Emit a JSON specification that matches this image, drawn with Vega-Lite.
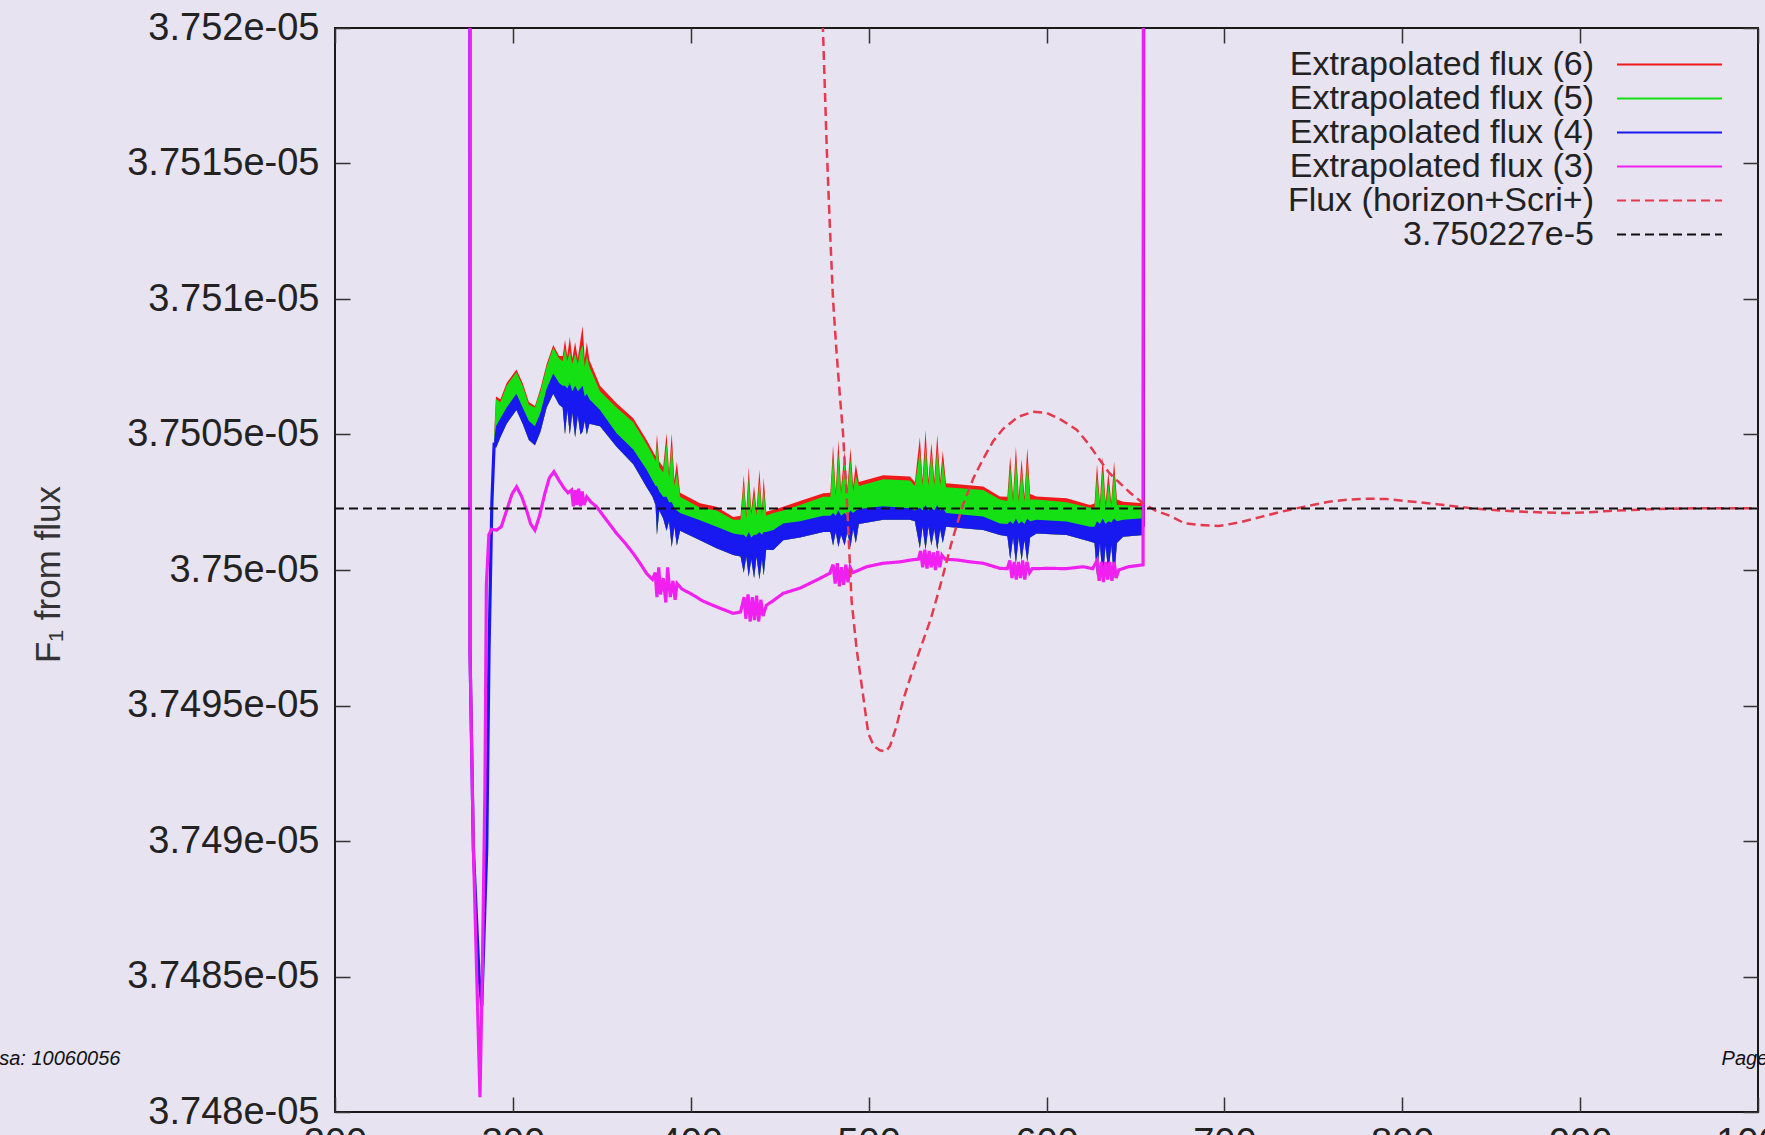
{
  "$schema": "https://vega.github.io/schema/vega-lite/v6.json",
  "width": 1423,
  "height": 1084,
  "autosize": "none",
  "padding": {"left": 335, "top": 28, "right": 7, "bottom": 23},
  "background": "#e7e3f0",
  "config": {
    "view": {"stroke": "#1a1a1a", "strokeWidth": 2},
    "font": "Liberation Sans",
    "axis": {"grid": false, "domain": false, "tickSize": -15, "tickColor": "#333333", "tickWidth": 1.5, "labelFont": "Liberation Sans", "labelFontSize": 38, "labelColor": "#222222", "labelLimit": 0, "titleFont": "Liberation Sans", "titleFontSize": 35, "titleColor": "#333333", "titleFontWeight": "normal", "labelFlush": false, "labelOverlap": false},
    "legend": {"orient": "none", "legendX": 1317.5, "legendY": 19.5, "padding": 0, "symbolType": "M-3.5,0H3.5", "symbolSize": 900, "symbolStrokeWidth": 2, "labelAlign": "right", "labelOffset": -92.5, "labelFont": "Liberation Sans", "labelFontSize": 34, "labelColor": "#222222", "labelLimit": 0, "rowPadding": 0}
  },
  "datasets": {
    "bands": [
      {"x":289.5,"bottom4":37504.6e-9,"top4":37504.8e-9,"top5":37504.9e-9,"top6":37505.0e-9},
      {"x":290.5,"bottom4":37504.5e-9,"top4":37505.3e-9,"top5":37506.3e-9,"top6":37506.4e-9},
      {"x":293,"bottom4":37504.9e-9,"top4":37505.6e-9,"top5":37506.2e-9,"top6":37506.3e-9},
      {"x":296.5,"bottom4":37505.4e-9,"top4":37506.0e-9,"top5":37506.8e-9,"top6":37506.9e-9},
      {"x":302,"bottom4":37505.9e-9,"top4":37506.5e-9,"top5":37507.3e-9,"top6":37507.4e-9},
      {"x":305.5,"bottom4":37505.4e-9,"top4":37506.0e-9,"top5":37506.8e-9,"top6":37506.9e-9},
      {"x":309,"bottom4":37504.8e-9,"top4":37505.5e-9,"top5":37506.1e-9,"top6":37506.2e-9},
      {"x":312.4,"bottom4":37504.6e-9,"top4":37505.3e-9,"top5":37506.0e-9,"top6":37506.05e-9},
      {"x":315.5,"bottom4":37505.1e-9,"top4":37505.8e-9,"top5":37506.6e-9,"top6":37506.7e-9},
      {"x":319,"bottom4":37506.0e-9,"top4":37506.7e-9,"top5":37507.5e-9,"top6":37507.6e-9},
      {"x":322.7,"bottom4":37506.5e-9,"top4":37507.25e-9,"top5":37508.2e-9,"top6":37508.3e-9},
      {"x":326,"bottom4":37506.1e-9,"top4":37506.9e-9,"top5":37507.8e-9,"top6":37507.9e-9},
      {"x":328,"bottom4":37506.0e-9,"top4":37506.8e-9,"top5":37507.7e-9,"top6":37507.9e-9},
      {"x":329.3,"bottom4":37505.0e-9,"top4":37506.8e-9,"top5":37508.2e-9,"top6":37508.5e-9},
      {"x":330.6,"bottom4":37505.9e-9,"top4":37506.7e-9,"top5":37507.7e-9,"top6":37507.9e-9},
      {"x":332,"bottom4":37505.0e-9,"top4":37506.9e-9,"top5":37508.1e-9,"top6":37508.6e-9},
      {"x":333.4,"bottom4":37505.8e-9,"top4":37506.6e-9,"top5":37507.6e-9,"top6":37507.8e-9},
      {"x":335,"bottom4":37504.9e-9,"top4":37506.8e-9,"top5":37508.0e-9,"top6":37508.4e-9},
      {"x":336.5,"bottom4":37505.7e-9,"top4":37506.6e-9,"top5":37507.6e-9,"top6":37507.8e-9},
      {"x":338,"bottom4":37505.0e-9,"top4":37506.7e-9,"top5":37508.1e-9,"top6":37508.5e-9},
      {"x":339.2,"bottom4":37505.1e-9,"top4":37506.8e-9,"top5":37508.3e-9,"top6":37509.0e-9},
      {"x":340.4,"bottom4":37505.5e-9,"top4":37506.4e-9,"top5":37507.5e-9,"top6":37507.8e-9},
      {"x":341.6,"bottom4":37505.0e-9,"top4":37506.5e-9,"top5":37507.9e-9,"top6":37508.4e-9},
      {"x":343,"bottom4":37505.4e-9,"top4":37506.3e-9,"top5":37507.5e-9,"top6":37507.75e-9},
      {"x":349,"bottom4":37505.3e-9,"top4":37505.9e-9,"top5":37506.6e-9,"top6":37506.8e-9},
      {"x":358.3,"bottom4":37504.55e-9,"top4":37505.05e-9,"top5":37506.0e-9,"top6":37506.15e-9},
      {"x":367.7,"bottom4":37503.9e-9,"top4":37504.45e-9,"top5":37505.45e-9,"top6":37505.6e-9},
      {"x":375.2,"bottom4":37503.05e-9,"top4":37503.7e-9,"top5":37504.65e-9,"top6":37504.8e-9},
      {"x":378.5,"bottom4":37502.7e-9,"top4":37503.3e-9,"top5":37504.25e-9,"top6":37504.4e-9},
      {"x":380.2,"bottom4":37502.4e-9,"top4":37503.1e-9,"top5":37504.0e-9,"top6":37504.2e-9},
      {"x":381,"bottom4":37501.3e-9,"top4":37503.1e-9,"top5":37504.7e-9,"top6":37505.0e-9},
      {"x":382.3,"bottom4":37502.2e-9,"top4":37502.9e-9,"top5":37503.8e-9,"top6":37504.0e-9},
      {"x":384.5,"bottom4":37501.9e-9,"top4":37502.7e-9,"top5":37503.6e-9,"top6":37503.8e-9},
      {"x":386.4,"bottom4":37501.45e-9,"top4":37502.7e-9,"top5":37504.7e-9,"top6":37505.05e-9},
      {"x":387.8,"bottom4":37501.8e-9,"top4":37502.5e-9,"top5":37503.4e-9,"top6":37503.6e-9},
      {"x":389.3,"bottom4":37500.85e-9,"top4":37502.5e-9,"top5":37504.6e-9,"top6":37505.05e-9},
      {"x":390.8,"bottom4":37501.6e-9,"top4":37502.3e-9,"top5":37503.1e-9,"top6":37503.3e-9},
      {"x":392.2,"bottom4":37500.9e-9,"top4":37502.2e-9,"top5":37503.6e-9,"top6":37504.0e-9},
      {"x":394,"bottom4":37501.45e-9,"top4":37502.1e-9,"top5":37502.7e-9,"top6":37502.85e-9},
      {"x":405.2,"bottom4":37501.1e-9,"top4":37501.84e-9,"top5":37502.3e-9,"top6":37502.46e-9},
      {"x":414.5,"bottom4":37500.8e-9,"top4":37501.6e-9,"top5":37502.2e-9,"top6":37502.33e-9},
      {"x":423.9,"bottom4":37500.55e-9,"top4":37501.35e-9,"top5":37501.85e-9,"top6":37501.96e-9},
      {"x":428,"bottom4":37500.5e-9,"top4":37501.3e-9,"top5":37501.85e-9,"top6":37502.0e-9},
      {"x":429.8,"bottom4":37499.9e-9,"top4":37501.3e-9,"top5":37503.2e-9,"top6":37503.5e-9},
      {"x":431.2,"bottom4":37500.5e-9,"top4":37501.2e-9,"top5":37501.9e-9,"top6":37502.1e-9},
      {"x":432.6,"bottom4":37499.75e-9,"top4":37501.4e-9,"top5":37503.4e-9,"top6":37503.8e-9},
      {"x":434,"bottom4":37500.4e-9,"top4":37501.2e-9,"top5":37502.0e-9,"top6":37502.2e-9},
      {"x":435.6,"bottom4":37499.7e-9,"top4":37501.3e-9,"top5":37502.8e-9,"top6":37503.1e-9},
      {"x":437,"bottom4":37500.5e-9,"top4":37501.3e-9,"top5":37502.0e-9,"top6":37502.2e-9},
      {"x":438.6,"bottom4":37499.65e-9,"top4":37501.4e-9,"top5":37503.3e-9,"top6":37503.7e-9},
      {"x":440,"bottom4":37500.4e-9,"top4":37501.3e-9,"top5":37502.0e-9,"top6":37502.2e-9},
      {"x":441,"bottom4":37499.8e-9,"top4":37501.4e-9,"top5":37503.0e-9,"top6":37503.4e-9},
      {"x":442.4,"bottom4":37500.75e-9,"top4":37501.4e-9,"top5":37502.0e-9,"top6":37502.15e-9},
      {"x":446.4,"bottom4":37500.74e-9,"top4":37501.48e-9,"top5":37502.1e-9,"top6":37502.22e-9},
      {"x":452,"bottom4":37501.1e-9,"top4":37501.72e-9,"top5":37502.2e-9,"top6":37502.33e-9},
      {"x":461.4,"bottom4":37501.2e-9,"top4":37501.8e-9,"top5":37502.4e-9,"top6":37502.55e-9},
      {"x":474.5,"bottom4":37501.4e-9,"top4":37502.0e-9,"top5":37502.7e-9,"top6":37502.83e-9},
      {"x":478.5,"bottom4":37501.4e-9,"top4":37502.0e-9,"top5":37502.7e-9,"top6":37502.85e-9},
      {"x":480,"bottom4":37500.9e-9,"top4":37502.1e-9,"top5":37504.2e-9,"top6":37504.6e-9},
      {"x":481.5,"bottom4":37501.4e-9,"top4":37502.0e-9,"top5":37502.7e-9,"top6":37502.9e-9},
      {"x":483,"bottom4":37500.85e-9,"top4":37502.2e-9,"top5":37504.3e-9,"top6":37504.8e-9},
      {"x":484.5,"bottom4":37501.3e-9,"top4":37502.0e-9,"top5":37502.8e-9,"top6":37503.0e-9},
      {"x":486.5,"bottom4":37500.9e-9,"top4":37502.1e-9,"top5":37504.0e-9,"top6":37504.4e-9},
      {"x":488,"bottom4":37501.4e-9,"top4":37502.0e-9,"top5":37502.8e-9,"top6":37503.0e-9},
      {"x":489.8,"bottom4":37500.85e-9,"top4":37502.2e-9,"top5":37504.1e-9,"top6":37504.5e-9},
      {"x":491.3,"bottom4":37501.5e-9,"top4":37502.1e-9,"top5":37502.9e-9,"top6":37503.1e-9},
      {"x":492.8,"bottom4":37501.0e-9,"top4":37502.2e-9,"top5":37503.5e-9,"top6":37503.9e-9},
      {"x":494.5,"bottom4":37501.7e-9,"top4":37502.25e-9,"top5":37503.1e-9,"top6":37503.25e-9},
      {"x":508.2,"bottom4":37501.85e-9,"top4":37502.35e-9,"top5":37503.35e-9,"top6":37503.5e-9},
      {"x":523.2,"bottom4":37501.85e-9,"top4":37502.28e-9,"top5":37503.3e-9,"top6":37503.45e-9},
      {"x":526,"bottom4":37501.8e-9,"top4":37502.2e-9,"top5":37503.1e-9,"top6":37503.25e-9},
      {"x":528.8,"bottom4":37500.8e-9,"top4":37502.3e-9,"top5":37504.4e-9,"top6":37504.9e-9},
      {"x":530.3,"bottom4":37501.6e-9,"top4":37502.2e-9,"top5":37503.1e-9,"top6":37503.3e-9},
      {"x":532,"bottom4":37500.75e-9,"top4":37502.4e-9,"top5":37504.6e-9,"top6":37505.17e-9},
      {"x":533.6,"bottom4":37501.6e-9,"top4":37502.2e-9,"top5":37503.1e-9,"top6":37503.3e-9},
      {"x":535.3,"bottom4":37500.9e-9,"top4":37502.3e-9,"top5":37504.3e-9,"top6":37504.7e-9},
      {"x":536.9,"bottom4":37501.5e-9,"top4":37502.2e-9,"top5":37503.1e-9,"top6":37503.3e-9},
      {"x":538.6,"bottom4":37500.74e-9,"top4":37502.4e-9,"top5":37504.5e-9,"top6":37505.0e-9},
      {"x":540.2,"bottom4":37501.5e-9,"top4":37502.2e-9,"top5":37503.1e-9,"top6":37503.3e-9},
      {"x":541.7,"bottom4":37501.0e-9,"top4":37502.3e-9,"top5":37504.0e-9,"top6":37504.4e-9},
      {"x":543.5,"bottom4":37501.6e-9,"top4":37502.1e-9,"top5":37503.05e-9,"top6":37503.2e-9},
      {"x":564.4,"bottom4":37501.48e-9,"top4":37501.97e-9,"top5":37502.95e-9,"top6":37503.08e-9},
      {"x":573.8,"bottom4":37501.29e-9,"top4":37501.72e-9,"top5":37502.6e-9,"top6":37502.71e-9},
      {"x":578,"bottom4":37501.25e-9,"top4":37501.7e-9,"top5":37502.55e-9,"top6":37502.7e-9},
      {"x":579.6,"bottom4":37500.4e-9,"top4":37501.8e-9,"top5":37503.8e-9,"top6":37504.2e-9},
      {"x":581.2,"bottom4":37501.2e-9,"top4":37501.7e-9,"top5":37502.5e-9,"top6":37502.7e-9},
      {"x":582.8,"bottom4":37500.25e-9,"top4":37501.9e-9,"top5":37504.1e-9,"top6":37504.55e-9},
      {"x":584.4,"bottom4":37501.2e-9,"top4":37501.7e-9,"top5":37502.5e-9,"top6":37502.7e-9},
      {"x":586,"bottom4":37500.35e-9,"top4":37501.8e-9,"top5":37503.7e-9,"top6":37504.1e-9},
      {"x":587.6,"bottom4":37501.1e-9,"top4":37501.7e-9,"top5":37502.5e-9,"top6":37502.7e-9},
      {"x":589.2,"bottom4":37500.3e-9,"top4":37501.9e-9,"top5":37504.0e-9,"top6":37504.5e-9},
      {"x":590.8,"bottom4":37501.2e-9,"top4":37501.8e-9,"top5":37502.6e-9,"top6":37502.8e-9},
      {"x":594.4,"bottom4":37501.35e-9,"top4":37501.85e-9,"top5":37502.6e-9,"top6":37502.71e-9},
      {"x":611.3,"bottom4":37501.29e-9,"top4":37501.79e-9,"top5":37502.5e-9,"top6":37502.65e-9},
      {"x":624.4,"bottom4":37501.05e-9,"top4":37501.6e-9,"top5":37502.3e-9,"top6":37502.4e-9},
      {"x":627,"bottom4":37501.0e-9,"top4":37501.6e-9,"top5":37502.3e-9,"top6":37502.45e-9},
      {"x":628.4,"bottom4":37499.8e-9,"top4":37501.8e-9,"top5":37503.5e-9,"top6":37503.9e-9},
      {"x":630,"bottom4":37501.0e-9,"top4":37501.7e-9,"top5":37502.3e-9,"top6":37502.5e-9},
      {"x":631.6,"bottom4":37499.63e-9,"top4":37501.9e-9,"top5":37503.7e-9,"top6":37504.18e-9},
      {"x":633.2,"bottom4":37500.9e-9,"top4":37501.7e-9,"top5":37502.3e-9,"top6":37502.5e-9},
      {"x":634.8,"bottom4":37499.9e-9,"top4":37501.8e-9,"top5":37503.2e-9,"top6":37503.6e-9},
      {"x":636.4,"bottom4":37500.9e-9,"top4":37501.75e-9,"top5":37502.35e-9,"top6":37502.5e-9},
      {"x":638,"bottom4":37499.7e-9,"top4":37501.9e-9,"top5":37503.6e-9,"top6":37504.0e-9},
      {"x":639.6,"bottom4":37501.0e-9,"top4":37501.8e-9,"top5":37502.4e-9,"top6":37502.6e-9},
      {"x":643.1,"bottom4":37501.23e-9,"top4":37501.85e-9,"top5":37502.4e-9,"top6":37502.52e-9},
      {"x":654.5,"bottom4":37501.29e-9,"top4":37501.91e-9,"top5":37502.35e-9,"top6":37502.46e-9}
    ],
    "lines": [
      {"s":"Extrapolated flux (4)","p":"a","x":275.8,"y":37545e-9},
      {"s":"Extrapolated flux (4)","p":"a","x":275.9,"y":37497e-9},
      {"s":"Extrapolated flux (4)","p":"a","x":277.8,"y":37489.7e-9},
      {"s":"Extrapolated flux (4)","p":"a","x":281.0,"y":37485.0e-9},
      {"s":"Extrapolated flux (4)","p":"a","x":282.5,"y":37483.9e-9},
      {"s":"Extrapolated flux (4)","p":"a","x":285.3,"y":37489.7e-9},
      {"s":"Extrapolated flux (4)","p":"a","x":286.6,"y":37497.05e-9},
      {"s":"Extrapolated flux (4)","p":"a","x":288.2,"y":37502.5e-9},
      {"s":"Extrapolated flux (4)","p":"a","x":289.5,"y":37504.7e-9},
      {"s":"Extrapolated flux (4)","p":"b","x":654.5,"y":37501.6e-9},
      {"s":"Extrapolated flux (4)","p":"b","x":654.8,"y":37545e-9},
      {"s":"Extrapolated flux (3)","p":"a","x":275.8,"y":37545e-9},
      {"s":"Extrapolated flux (3)","p":"a","x":275.9,"y":37497e-9},
      {"s":"Extrapolated flux (3)","p":"a","x":277.8,"y":37489.7e-9},
      {"s":"Extrapolated flux (3)","p":"a","x":281.5,"y":37480.55e-9},
      {"s":"Extrapolated flux (3)","p":"a","x":282.8,"y":37485e-9},
      {"s":"Extrapolated flux (3)","p":"a","x":284.3,"y":37492e-9},
      {"s":"Extrapolated flux (3)","p":"a","x":285.1,"y":37499.45e-9},
      {"s":"Extrapolated flux (3)","p":"a","x":286.5,"y":37501.3e-9},
      {"s":"Extrapolated flux (3)","p":"a","x":288,"y":37501.5e-9},
      {"s":"Extrapolated flux (3)","p":"a","x":290.9,"y":37501.47e-9},
      {"s":"Extrapolated flux (3)","p":"a","x":293.5,"y":37501.6e-9},
      {"s":"Extrapolated flux (3)","p":"a","x":296.5,"y":37502.2e-9},
      {"s":"Extrapolated flux (3)","p":"a","x":299.5,"y":37502.8e-9},
      {"s":"Extrapolated flux (3)","p":"a","x":302.1,"y":37503.07e-9},
      {"s":"Extrapolated flux (3)","p":"a","x":305,"y":37502.7e-9},
      {"s":"Extrapolated flux (3)","p":"a","x":307.7,"y":37502.2e-9},
      {"s":"Extrapolated flux (3)","p":"a","x":310,"y":37501.7e-9},
      {"s":"Extrapolated flux (3)","p":"a","x":312.4,"y":37501.47e-9},
      {"s":"Extrapolated flux (3)","p":"a","x":315,"y":37502.0e-9},
      {"s":"Extrapolated flux (3)","p":"a","x":318,"y":37502.83e-9},
      {"s":"Extrapolated flux (3)","p":"a","x":320.5,"y":37503.4e-9},
      {"s":"Extrapolated flux (3)","p":"a","x":323.1,"y":37503.63e-9},
      {"s":"Extrapolated flux (3)","p":"a","x":326,"y":37503.3e-9},
      {"s":"Extrapolated flux (3)","p":"a","x":329,"y":37503.0e-9},
      {"s":"Extrapolated flux (3)","p":"a","x":331,"y":37502.85e-9},
      {"s":"Extrapolated flux (3)","p":"a","x":333,"y":37502.95e-9},
      {"s":"Extrapolated flux (3)","p":"a","x":334,"y":37502.35e-9},
      {"s":"Extrapolated flux (3)","p":"a","x":335,"y":37502.95e-9},
      {"s":"Extrapolated flux (3)","p":"a","x":336,"y":37502.4e-9},
      {"s":"Extrapolated flux (3)","p":"a","x":337,"y":37503.0e-9},
      {"s":"Extrapolated flux (3)","p":"a","x":338,"y":37502.35e-9},
      {"s":"Extrapolated flux (3)","p":"a","x":339,"y":37502.9e-9},
      {"s":"Extrapolated flux (3)","p":"a","x":340,"y":37502.4e-9},
      {"s":"Extrapolated flux (3)","p":"a","x":341.5,"y":37502.7e-9},
      {"s":"Extrapolated flux (3)","p":"a","x":344,"y":37502.5e-9},
      {"s":"Extrapolated flux (3)","p":"a","x":347.1,"y":37502.33e-9},
      {"s":"Extrapolated flux (3)","p":"a","x":352,"y":37501.9e-9},
      {"s":"Extrapolated flux (3)","p":"a","x":358.3,"y":37501.35e-9},
      {"s":"Extrapolated flux (3)","p":"a","x":363,"y":37501.0e-9},
      {"s":"Extrapolated flux (3)","p":"a","x":367.7,"y":37500.61e-9},
      {"s":"Extrapolated flux (3)","p":"a","x":371.5,"y":37500.25e-9},
      {"s":"Extrapolated flux (3)","p":"a","x":375.2,"y":37499.87e-9},
      {"s":"Extrapolated flux (3)","p":"a","x":378.5,"y":37499.65e-9},
      {"s":"Extrapolated flux (3)","p":"a","x":380,"y":37499.9e-9},
      {"s":"Extrapolated flux (3)","p":"a","x":381,"y":37499.0e-9},
      {"s":"Extrapolated flux (3)","p":"a","x":382,"y":37500.1e-9},
      {"s":"Extrapolated flux (3)","p":"a","x":383,"y":37499.1e-9},
      {"s":"Extrapolated flux (3)","p":"a","x":384.5,"y":37499.7e-9},
      {"s":"Extrapolated flux (3)","p":"a","x":386,"y":37498.8e-9},
      {"s":"Extrapolated flux (3)","p":"a","x":387,"y":37500.1e-9},
      {"s":"Extrapolated flux (3)","p":"a","x":388.5,"y":37499.0e-9},
      {"s":"Extrapolated flux (3)","p":"a","x":390,"y":37499.6e-9},
      {"s":"Extrapolated flux (3)","p":"a","x":391.2,"y":37498.9e-9},
      {"s":"Extrapolated flux (3)","p":"a","x":392.3,"y":37499.5e-9},
      {"s":"Extrapolated flux (3)","p":"a","x":395,"y":37499.3e-9},
      {"s":"Extrapolated flux (3)","p":"a","x":399.6,"y":37499.14e-9},
      {"s":"Extrapolated flux (3)","p":"a","x":407,"y":37498.85e-9},
      {"s":"Extrapolated flux (3)","p":"a","x":414.5,"y":37498.64e-9},
      {"s":"Extrapolated flux (3)","p":"a","x":420,"y":37498.5e-9},
      {"s":"Extrapolated flux (3)","p":"a","x":423.9,"y":37498.4e-9},
      {"s":"Extrapolated flux (3)","p":"a","x":428,"y":37498.45e-9},
      {"s":"Extrapolated flux (3)","p":"a","x":430,"y":37499.0e-9},
      {"s":"Extrapolated flux (3)","p":"a","x":431,"y":37498.2e-9},
      {"s":"Extrapolated flux (3)","p":"a","x":432.2,"y":37499.1e-9},
      {"s":"Extrapolated flux (3)","p":"a","x":433.4,"y":37498.1e-9},
      {"s":"Extrapolated flux (3)","p":"a","x":434.6,"y":37499.0e-9},
      {"s":"Extrapolated flux (3)","p":"a","x":435.8,"y":37498.15e-9},
      {"s":"Extrapolated flux (3)","p":"a","x":437,"y":37499.05e-9},
      {"s":"Extrapolated flux (3)","p":"a","x":438.2,"y":37498.1e-9},
      {"s":"Extrapolated flux (3)","p":"a","x":439.4,"y":37498.9e-9},
      {"s":"Extrapolated flux (3)","p":"a","x":440.6,"y":37498.3e-9},
      {"s":"Extrapolated flux (3)","p":"a","x":442.5,"y":37498.7e-9},
      {"s":"Extrapolated flux (3)","p":"a","x":446,"y":37498.85e-9},
      {"s":"Extrapolated flux (3)","p":"a","x":452,"y":37499.14e-9},
      {"s":"Extrapolated flux (3)","p":"a","x":461.4,"y":37499.33e-9},
      {"s":"Extrapolated flux (3)","p":"a","x":470.8,"y":37499.63e-9},
      {"s":"Extrapolated flux (3)","p":"a","x":478.2,"y":37499.88e-9},
      {"s":"Extrapolated flux (3)","p":"a","x":480,"y":37500.2e-9},
      {"s":"Extrapolated flux (3)","p":"a","x":481.2,"y":37499.5e-9},
      {"s":"Extrapolated flux (3)","p":"a","x":482.4,"y":37500.25e-9},
      {"s":"Extrapolated flux (3)","p":"a","x":483.6,"y":37499.4e-9},
      {"s":"Extrapolated flux (3)","p":"a","x":484.8,"y":37500.1e-9},
      {"s":"Extrapolated flux (3)","p":"a","x":486,"y":37499.45e-9},
      {"s":"Extrapolated flux (3)","p":"a","x":487.2,"y":37500.2e-9},
      {"s":"Extrapolated flux (3)","p":"a","x":488.4,"y":37499.55e-9},
      {"s":"Extrapolated flux (3)","p":"a","x":489.6,"y":37500.1e-9},
      {"s":"Extrapolated flux (3)","p":"a","x":491,"y":37499.9e-9},
      {"s":"Extrapolated flux (3)","p":"a","x":498.9,"y":37500.12e-9},
      {"s":"Extrapolated flux (3)","p":"a","x":508.2,"y":37500.25e-9},
      {"s":"Extrapolated flux (3)","p":"a","x":517.6,"y":37500.3e-9},
      {"s":"Extrapolated flux (3)","p":"a","x":525,"y":37500.38e-9},
      {"s":"Extrapolated flux (3)","p":"a","x":528,"y":37500.4e-9},
      {"s":"Extrapolated flux (3)","p":"a","x":529.2,"y":37500.7e-9},
      {"s":"Extrapolated flux (3)","p":"a","x":530.4,"y":37500.1e-9},
      {"s":"Extrapolated flux (3)","p":"a","x":531.6,"y":37500.75e-9},
      {"s":"Extrapolated flux (3)","p":"a","x":532.8,"y":37500.05e-9},
      {"s":"Extrapolated flux (3)","p":"a","x":534,"y":37500.7e-9},
      {"s":"Extrapolated flux (3)","p":"a","x":535.2,"y":37500.1e-9},
      {"s":"Extrapolated flux (3)","p":"a","x":536.4,"y":37500.65e-9},
      {"s":"Extrapolated flux (3)","p":"a","x":537.6,"y":37500.0e-9},
      {"s":"Extrapolated flux (3)","p":"a","x":538.8,"y":37500.7e-9},
      {"s":"Extrapolated flux (3)","p":"a","x":540,"y":37500.1e-9},
      {"s":"Extrapolated flux (3)","p":"a","x":541.2,"y":37500.55e-9},
      {"s":"Extrapolated flux (3)","p":"a","x":543,"y":37500.4e-9},
      {"s":"Extrapolated flux (3)","p":"a","x":550,"y":37500.37e-9},
      {"s":"Extrapolated flux (3)","p":"a","x":557,"y":37500.3e-9},
      {"s":"Extrapolated flux (3)","p":"a","x":564.4,"y":37500.25e-9},
      {"s":"Extrapolated flux (3)","p":"a","x":573.8,"y":37500.06e-9},
      {"s":"Extrapolated flux (3)","p":"a","x":578,"y":37500.05e-9},
      {"s":"Extrapolated flux (3)","p":"a","x":579.4,"y":37500.35e-9},
      {"s":"Extrapolated flux (3)","p":"a","x":580.6,"y":37499.7e-9},
      {"s":"Extrapolated flux (3)","p":"a","x":581.8,"y":37500.3e-9},
      {"s":"Extrapolated flux (3)","p":"a","x":583,"y":37499.65e-9},
      {"s":"Extrapolated flux (3)","p":"a","x":584.2,"y":37500.3e-9},
      {"s":"Extrapolated flux (3)","p":"a","x":585.4,"y":37499.7e-9},
      {"s":"Extrapolated flux (3)","p":"a","x":586.6,"y":37500.35e-9},
      {"s":"Extrapolated flux (3)","p":"a","x":587.8,"y":37499.65e-9},
      {"s":"Extrapolated flux (3)","p":"a","x":589,"y":37500.3e-9},
      {"s":"Extrapolated flux (3)","p":"a","x":590.5,"y":37499.9e-9},
      {"s":"Extrapolated flux (3)","p":"a","x":592,"y":37500.05e-9},
      {"s":"Extrapolated flux (3)","p":"a","x":601.9,"y":37500.06e-9},
      {"s":"Extrapolated flux (3)","p":"a","x":611,"y":37500.05e-9},
      {"s":"Extrapolated flux (3)","p":"a","x":620.6,"y":37500.12e-9},
      {"s":"Extrapolated flux (3)","p":"a","x":626,"y":37500.05e-9},
      {"s":"Extrapolated flux (3)","p":"a","x":628.4,"y":37500.35e-9},
      {"s":"Extrapolated flux (3)","p":"a","x":629.6,"y":37499.6e-9},
      {"s":"Extrapolated flux (3)","p":"a","x":630.8,"y":37500.3e-9},
      {"s":"Extrapolated flux (3)","p":"a","x":632,"y":37499.55e-9},
      {"s":"Extrapolated flux (3)","p":"a","x":633.2,"y":37500.3e-9},
      {"s":"Extrapolated flux (3)","p":"a","x":634.4,"y":37499.65e-9},
      {"s":"Extrapolated flux (3)","p":"a","x":635.6,"y":37500.3e-9},
      {"s":"Extrapolated flux (3)","p":"a","x":636.8,"y":37499.6e-9},
      {"s":"Extrapolated flux (3)","p":"a","x":638,"y":37500.3e-9},
      {"s":"Extrapolated flux (3)","p":"a","x":639.2,"y":37499.7e-9},
      {"s":"Extrapolated flux (3)","p":"a","x":640.6,"y":37500.0e-9},
      {"s":"Extrapolated flux (3)","p":"a","x":646,"y":37500.12e-9},
      {"s":"Extrapolated flux (3)","p":"a","x":654.3,"y":37500.19e-9},
      {"s":"Extrapolated flux (3)","p":"a","x":654.6,"y":37545e-9},
      {"s":"Flux (horizon+Scri+)","p":"a","x":472.5,"y":37530e-9},
      {"s":"Flux (horizon+Scri+)","p":"a","x":474.3,"y":37520e-9},
      {"s":"Flux (horizon+Scri+)","p":"a","x":476.5,"y":37515.5e-9},
      {"s":"Flux (horizon+Scri+)","p":"a","x":478.2,"y":37512.7e-9},
      {"s":"Flux (horizon+Scri+)","p":"a","x":480,"y":37509.96e-9},
      {"s":"Flux (horizon+Scri+)","p":"a","x":482,"y":37508.0e-9},
      {"s":"Flux (horizon+Scri+)","p":"a","x":484,"y":37506.3e-9},
      {"s":"Flux (horizon+Scri+)","p":"a","x":485.6,"y":37505.06e-9},
      {"s":"Flux (horizon+Scri+)","p":"a","x":488,"y":37502.3e-9},
      {"s":"Flux (horizon+Scri+)","p":"a","x":490.4,"y":37498.89e-9},
      {"s":"Flux (horizon+Scri+)","p":"a","x":493.3,"y":37497.05e-9},
      {"s":"Flux (horizon+Scri+)","p":"a","x":496,"y":37495.8e-9},
      {"s":"Flux (horizon+Scri+)","p":"a","x":499.8,"y":37493.97e-9},
      {"s":"Flux (horizon+Scri+)","p":"a","x":503,"y":37493.5e-9},
      {"s":"Flux (horizon+Scri+)","p":"a","x":506.3,"y":37493.35e-9},
      {"s":"Flux (horizon+Scri+)","p":"a","x":509.5,"y":37493.3e-9},
      {"s":"Flux (horizon+Scri+)","p":"a","x":512,"y":37493.5e-9},
      {"s":"Flux (horizon+Scri+)","p":"a","x":515.5,"y":37494.2e-9},
      {"s":"Flux (horizon+Scri+)","p":"a","x":519.4,"y":37495.2e-9},
      {"s":"Flux (horizon+Scri+)","p":"a","x":524,"y":37496.15e-9},
      {"s":"Flux (horizon+Scri+)","p":"a","x":528.8,"y":37497.05e-9},
      {"s":"Flux (horizon+Scri+)","p":"a","x":535,"y":37498.2e-9},
      {"s":"Flux (horizon+Scri+)","p":"a","x":541,"y":37499.6e-9},
      {"s":"Flux (horizon+Scri+)","p":"a","x":547,"y":37501.1e-9},
      {"s":"Flux (horizon+Scri+)","p":"a","x":553,"y":37502.4e-9},
      {"s":"Flux (horizon+Scri+)","p":"a","x":559,"y":37503.4e-9},
      {"s":"Flux (horizon+Scri+)","p":"a","x":564.4,"y":37504.1e-9},
      {"s":"Flux (horizon+Scri+)","p":"a","x":570,"y":37504.75e-9},
      {"s":"Flux (horizon+Scri+)","p":"a","x":575.5,"y":37505.2e-9},
      {"s":"Flux (horizon+Scri+)","p":"a","x":584,"y":37505.65e-9},
      {"s":"Flux (horizon+Scri+)","p":"a","x":592.4,"y":37505.84e-9},
      {"s":"Flux (horizon+Scri+)","p":"a","x":600,"y":37505.8e-9},
      {"s":"Flux (horizon+Scri+)","p":"a","x":608,"y":37505.55e-9},
      {"s":"Flux (horizon+Scri+)","p":"a","x":617.1,"y":37505.17e-9},
      {"s":"Flux (horizon+Scri+)","p":"a","x":623,"y":37504.7e-9},
      {"s":"Flux (horizon+Scri+)","p":"a","x":630,"y":37504.06e-9},
      {"s":"Flux (horizon+Scri+)","p":"a","x":635,"y":37503.6e-9},
      {"s":"Flux (horizon+Scri+)","p":"a","x":639.4,"y":37503.32e-9},
      {"s":"Flux (horizon+Scri+)","p":"a","x":647,"y":37502.85e-9},
      {"s":"Flux (horizon+Scri+)","p":"a","x":654.3,"y":37502.46e-9},
      {"s":"Flux (horizon+Scri+)","p":"a","x":661,"y":37502.2e-9},
      {"s":"Flux (horizon+Scri+)","p":"a","x":669.4,"y":37502.0e-9},
      {"s":"Flux (horizon+Scri+)","p":"a","x":677.7,"y":37501.72e-9},
      {"s":"Flux (horizon+Scri+)","p":"a","x":686,"y":37501.66e-9},
      {"s":"Flux (horizon+Scri+)","p":"a","x":696.7,"y":37501.62e-9},
      {"s":"Flux (horizon+Scri+)","p":"a","x":708,"y":37501.75e-9},
      {"s":"Flux (horizon+Scri+)","p":"a","x":720.6,"y":37501.96e-9},
      {"s":"Flux (horizon+Scri+)","p":"a","x":732,"y":37502.15e-9},
      {"s":"Flux (horizon+Scri+)","p":"a","x":744.4,"y":37502.33e-9},
      {"s":"Flux (horizon+Scri+)","p":"a","x":758.7,"y":37502.52e-9},
      {"s":"Flux (horizon+Scri+)","p":"a","x":770,"y":37502.6e-9},
      {"s":"Flux (horizon+Scri+)","p":"a","x":780.2,"y":37502.63e-9},
      {"s":"Flux (horizon+Scri+)","p":"a","x":791,"y":37502.62e-9},
      {"s":"Flux (horizon+Scri+)","p":"a","x":801.6,"y":37502.55e-9},
      {"s":"Flux (horizon+Scri+)","p":"a","x":820.7,"y":37502.42e-9},
      {"s":"Flux (horizon+Scri+)","p":"a","x":839.8,"y":37502.27e-9},
      {"s":"Flux (horizon+Scri+)","p":"a","x":855,"y":37502.2e-9},
      {"s":"Flux (horizon+Scri+)","p":"a","x":868.4,"y":37502.15e-9},
      {"s":"Flux (horizon+Scri+)","p":"a","x":880,"y":37502.12e-9},
      {"s":"Flux (horizon+Scri+)","p":"a","x":892.2,"y":37502.1e-9},
      {"s":"Flux (horizon+Scri+)","p":"a","x":905,"y":37502.13e-9},
      {"s":"Flux (horizon+Scri+)","p":"a","x":916.1,"y":37502.18e-9},
      {"s":"Flux (horizon+Scri+)","p":"a","x":939.9,"y":37502.24e-9},
      {"s":"Flux (horizon+Scri+)","p":"a","x":963.7,"y":37502.28e-9},
      {"s":"Flux (horizon+Scri+)","p":"a","x":992.3,"y":37502.28e-9},
      {"s":"Flux (horizon+Scri+)","p":"a","x":1000,"y":37502.28e-9},
      {"s":"3.750227e-5","p":"a","x":200,"y":37502.27e-9},
      {"s":"3.750227e-5","p":"a","x":1000,"y":37502.27e-9}
    ]
  },
  "layer": [
    {
      "data": {"name": "bands"},
      "mark": {"type": "area", "clip": true, "color": "#f01a1a"},
      "encoding": {
        "x": {"field": "x", "type": "quantitative", "scale": {"domain": [200, 1000], "nice": false, "zero": false},
          "axis": {"orient": "bottom", "values": [200, 300, 400, 500, 600, 700, 800, 900, 1000], "format": "d", "labelPadding": 27, "title": null}},
        "y": {"field": "bottom4", "type": "quantitative", "scale": {"domain": [3.748e-5, 3.752e-5], "nice": false, "zero": false},
          "axis": {"orient": "left", "values": [3.748e-5, 3.7485e-5, 3.749e-5, 3.7495e-5, 3.75e-5, 3.7505e-5, 3.751e-5, 3.7515e-5, 3.752e-5],
            "labelExpr": "replace(format(datum.value, '.5~e'), 'e-5', 'e-05')", "labelPadding": 31,
            "title": "F₁ from flux", "titleX": -287, "titleY": 546, "titleAngle": -90, "titleAlign": "center", "titleBaseline": "middle"}},
        "y2": {"field": "top6"}
      }
    },
    {
      "data": {"name": "bands"},
      "mark": {"type": "area", "clip": true, "color": "#14e014"},
      "encoding": {
        "x": {"field": "x", "type": "quantitative", "axis": null},
        "y": {"field": "bottom4", "type": "quantitative", "axis": null},
        "y2": {"field": "top5"}
      }
    },
    {
      "data": {"name": "bands"},
      "mark": {"type": "area", "clip": true, "color": "#1818f0"},
      "encoding": {
        "x": {"field": "x", "type": "quantitative", "axis": null},
        "y": {"field": "bottom4", "type": "quantitative", "axis": null},
        "y2": {"field": "top4"}
      }
    },
    {
      "data": {"name": "lines"},
      "transform": [{"filter": "datum.s == 'Extrapolated flux (4)' || datum.s == 'Extrapolated flux (3)'"}],
      "mark": {"type": "line", "clip": true, "strokeWidth": 3.2},
      "encoding": {
        "x": {"field": "x", "type": "quantitative", "axis": null},
        "y": {"field": "y", "type": "quantitative", "axis": null},
        "detail": {"field": "p"},
        "color": {"field": "s", "type": "nominal", "legend": {"title": null, "symbolType": "M-3.5,0H3.5"},
          "scale": {"domain": ["Extrapolated flux (6)", "Extrapolated flux (5)", "Extrapolated flux (4)", "Extrapolated flux (3)", "Flux (horizon+Scri+)", "3.750227e-5"],
                    "range": ["#f01a1a", "#14e014", "#1818f0", "#f020f0", "#e43a4e", "#111111"]}},
        "strokeDash": {"field": "s", "type": "nominal", "legend": {"title": null, "symbolType": "M-3.5,0H3.5"},
          "scale": {"domain": ["Extrapolated flux (6)", "Extrapolated flux (5)", "Extrapolated flux (4)", "Extrapolated flux (3)", "Flux (horizon+Scri+)", "3.750227e-5"],
                    "range": [[1, 0], [1, 0], [1, 0], [1, 0], [9, 5], [9, 5]]}}
      }
    },
    {
      "data": {"name": "lines"},
      "transform": [{"filter": "datum.s == 'Flux (horizon+Scri+)'"}],
      "mark": {"type": "line", "clip": true, "strokeWidth": 2.5},
      "encoding": {
        "x": {"field": "x", "type": "quantitative", "axis": null},
        "y": {"field": "y", "type": "quantitative", "axis": null},
        "color": {"field": "s", "type": "nominal", "legend": {"title": null, "symbolType": "M-3.5,0H3.5"}},
        "strokeDash": {"field": "s", "type": "nominal", "legend": {"title": null, "symbolType": "M-3.5,0H3.5"}}
      }
    },
    {
      "data": {"name": "lines"},
      "transform": [{"filter": "datum.s == '3.750227e-5'"}],
      "mark": {"type": "line", "clip": true, "strokeWidth": 2},
      "encoding": {
        "x": {"field": "x", "type": "quantitative",
          "axis": {"orient": "top", "values": [200, 300, 400, 500, 600, 700, 800, 900, 1000], "labels": false, "title": null}},
        "y": {"field": "y", "type": "quantitative",
          "axis": {"orient": "right", "values": [3.748e-5, 3.7485e-5, 3.749e-5, 3.7495e-5, 3.75e-5, 3.7505e-5, 3.751e-5, 3.7515e-5, 3.752e-5], "labels": false, "title": null}},
        "color": {"field": "s", "type": "nominal", "legend": {"title": null, "symbolType": "M-3.5,0H3.5"}},
        "strokeDash": {"field": "s", "type": "nominal", "legend": {"title": null, "symbolType": "M-3.5,0H3.5"}}
      }
    },
    {
      "data": {"values": [{}]},
      "mark": {"type": "text", "text": "sa: 10060056", "align": "left", "baseline": "middle", "fontStyle": "italic", "fontSize": 20, "font": "Liberation Sans", "color": "#111111", "clip": false},
      "encoding": {
        "x": {"datum": 11.2, "type": "quantitative", "axis": null},
        "y": {"datum": 3.748196e-5, "type": "quantitative", "axis": null}
      }
    },
    {
      "data": {"values": [{}]},
      "mark": {"type": "text", "text": "Page", "align": "left", "baseline": "middle", "fontStyle": "italic", "fontSize": 20, "font": "Liberation Sans", "color": "#111111", "clip": false},
      "encoding": {
        "x": {"datum": 979.5, "type": "quantitative", "axis": null},
        "y": {"datum": 3.748196e-5, "type": "quantitative", "axis": null}
      }
    }
  ],
  "resolve": {"axis": {"x": "independent", "y": "independent"}}
}
